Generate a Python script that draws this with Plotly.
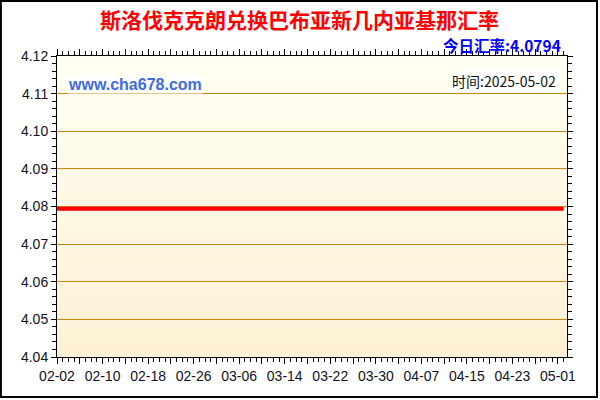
import plotly.graph_objects as go

# data
dates = ["2025-02-02", "2025-05-02"]
rates = [4.0794, 4.0794]
current_rate = "4.0794"
update_date = "2025-05-02"
title_text = "斯洛伐克克朗兑换巴布亚新几内亚基那汇率"

fig = go.Figure()
fig.add_trace(go.Scatter(x=dates, y=rates, mode="lines",
                         line=dict(color="#ff0000", width=4),
                         hoverinfo="skip", showlegend=False))

# vertical gradient for the plot background (white-ish to pale orange)
top = (255, 255, 242)
bottom = (253, 240, 212)
n_bands = 40
for i in range(n_bands):
    t = i / (n_bands - 1)
    c = tuple(round(top[k] + (bottom[k] - top[k]) * t) for k in range(3))
    fig.add_shape(type="rect", xref="paper", yref="paper",
                  x0=0, x1=1, y1=1 - i / n_bands, y0=1 - (i + 1) / n_bands,
                  fillcolor="rgb(%d,%d,%d)" % c, line_width=0, layer="below")

# outer frame
fig.add_shape(type="rect", xref="paper", yref="paper",
              x0=-0.11, x1=1.0588, y0=-0.1329, y1=1.1827,
              line=dict(color="black", width=2), layer="above")

day = 86400000
fig.update_xaxes(
    type="date", range=["2025-02-02", "2025-05-02 14:00"],
    tick0="2025-02-02", dtick=4 * day, ticklabelstep=2, tickformat="%m-%d",
    ticks="outside", ticklen=6, tickcolor="black", tickwidth=1,
    minor=dict(dtick=day, ticks="outside", ticklen=4, tickcolor="black"),
    showgrid=False, showline=True, linecolor="black", linewidth=1,
    mirror="ticks", zeroline=False,
    tickfont=dict(family="Liberation Sans, Arial", size=14, color="#111122"),
)
fig.update_yaxes(
    range=[4.04, 4.12], dtick=0.01, tickformat=".2f",
    ticks="outside", ticklen=5, tickcolor="black", tickwidth=1,
    minor=dict(dtick=0.002, ticks="outside", ticklen=4, tickcolor="black"),
    showgrid=True, gridcolor="#c8880a", gridwidth=1,
    showline=True, linecolor="black", linewidth=1,
    mirror="ticks", zeroline=False,
    tickfont=dict(family="Liberation Sans, Arial", size=14, color="#111122"),
)

fig.add_annotation(text="<b>" + title_text + "</b>", xref="paper", yref="paper",
                   x=0.476, y=1.1229, xanchor="center", yanchor="middle",
                   showarrow=False,
                   font=dict(family="Noto Sans CJK SC", size=21, color="#ff0000"))
fig.add_annotation(text="<b>今日汇率:" + current_rate + "</b>", xref="paper", yref="paper",
                   x=0.992, y=1.0382, xanchor="right", yanchor="middle",
                   showarrow=False,
                   font=dict(family="Noto Sans CJK SC", size=15.5, color="#0000ff"))
fig.add_annotation(text="<b>www.cha678.com</b>", xref="paper", yref="paper",
                   x=0.02, y=0.9037, xanchor="left", yanchor="middle",
                   showarrow=False, bgcolor="white", borderpad=0,
                   font=dict(family="Liberation Sans, Arial", size=16, color="#4169e1"))
fig.add_annotation(text="时间:" + update_date, xref="paper", yref="paper",
                   x=0.98, y=0.917, xanchor="right", yanchor="middle",
                   showarrow=False, bgcolor="white", borderpad=0,
                   font=dict(family="Noto Sans CJK SC", size=14, color="#111111"))

fig.update_layout(
    width=600, height=400,
    margin=dict(l=57, r=33, t=56, b=43),
    paper_bgcolor="white", plot_bgcolor="rgba(0,0,0,0)",
    showlegend=False,
)
fig.write_html("out.html", config={"displayModeBar": False},
               post_script="document.body.style.margin='0';")
